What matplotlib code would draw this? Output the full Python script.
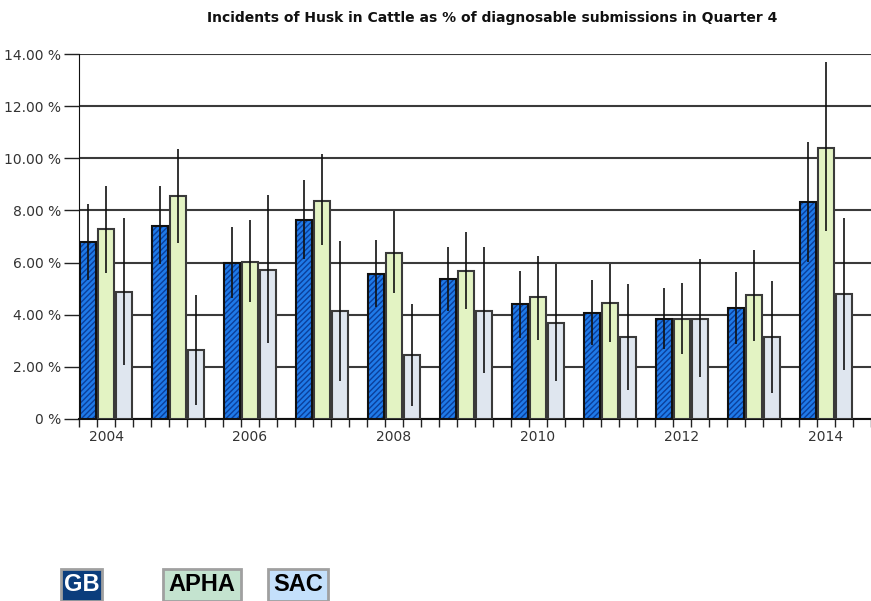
import numpy as np
import matplotlib
matplotlib.use('Agg')
import matplotlib.pyplot as plt
from matplotlib.patches import Rectangle

years = [2004, 2005, 2006, 2007, 2008, 2009, 2010, 2011, 2012, 2013, 2014]

gb = [6.80, 7.41, 5.97, 7.62, 5.58, 5.37, 4.41, 4.06, 3.83, 4.24, 8.32]
gb_lo = [5.35, 5.95, 4.64, 6.14, 4.29, 4.15, 3.10, 2.85, 2.69, 2.88, 6.03]
gb_hi = [8.24, 8.93, 7.37, 9.15, 6.86, 6.60, 5.69, 5.33, 5.01, 5.63, 10.63]

apha = [7.27, 8.54, 6.03, 8.38, 6.35, 5.68, 4.67, 4.45, 3.83, 4.77, 10.41]
apha_lo = [5.60, 6.76, 4.47, 6.67, 4.83, 4.22, 3.04, 2.95, 2.49, 2.99, 7.23]
apha_hi = [8.93, 10.37, 7.63, 10.18, 7.96, 7.17, 6.24, 5.96, 5.22, 6.50, 13.68]

sac = [4.86, 2.63, 5.72, 4.14, 2.46, 4.14, 3.70, 3.14, 3.83, 3.14, 4.81]
sac_lo = [2.08, 0.54, 2.91, 1.47, 0.50, 1.78, 1.47, 1.12, 1.62, 1.01, 1.88]
sac_hi = [7.72, 4.77, 8.59, 6.81, 4.42, 6.60, 5.96, 5.18, 6.14, 5.28, 7.72]

yticks = [0, 2, 4, 6, 8, 10, 12, 14]
label_years = [2004, 2006, 2008, 2010, 2012, 2014]

W, H = 871, 601
fig = plt.figure(figsize=(W / 100, H / 100), dpi=100)
ax = fig.add_axes([79 / W, (H - 419) / H, (W - 79) / W, (419 - 54) / H])

n = len(years)
slots = 4
bw = 0.9
base = np.arange(n) * slots
x_gb = base + 0.5
x_apha = base + 1.5
x_sac = base + 2.5

# GB: hatched blue, outline drawn separately so hatch keeps its own colour
ax.bar(x_gb, gb, bw, color='#1f7ae8', edgecolor='#0b3f9a', hatch='//////',
       linewidth=0, zorder=3)
ax.bar(x_gb, gb, bw, fill=False, edgecolor='#111111', linewidth=1.5, zorder=4)
ax.bar(x_apha, apha, bw, color='#e3f3c3', edgecolor='#3a3a3a', linewidth=1.5, zorder=3)
ax.bar(x_sac, sac, bw, color='#dfe6ef', edgecolor='#3a3a3a', linewidth=1.5, zorder=3)

for xs, lo, hi in [(x_gb, gb_lo, gb_hi), (x_apha, apha_lo, apha_hi), (x_sac, sac_lo, sac_hi)]:
    ax.vlines(xs, lo, hi, color='#111111', linewidth=1.2, zorder=5)

ax.set_ylim(0, 14)
ax.set_xlim(0, (W - 79) / 18.225)
ax.set_yticks(yticks)
ax.set_yticklabels(['0 %' if v == 0 else f'{v:.2f} %' for v in yticks],
                   fontsize=10, color='#333333')
ax.tick_params(axis='y', length=11, width=1, color='#222222', pad=2)
ax.grid(axis='y', color='#3a3a3a', linewidth=1.5, zorder=1)
ax.set_axisbelow(True)

# boundaries between bar slots carry ticks, labels sit under the APHA bar
ax.set_xticks(np.arange(0, n * slots + 1))
ax.set_xticklabels([])
ax.tick_params(axis='x', which='major', length=6, width=1, color='#222222')
ax.set_xticks([years.index(y) * slots + 1.5 for y in label_years], minor=True)
ax.set_xticklabels([str(y) for y in label_years], minor=True, fontsize=10,
                   color='#333333')
ax.tick_params(axis='x', which='minor', length=0, pad=8)

for side in ['top', 'right']:
    ax.spines[side].set_visible(False)
ax.spines['left'].set_color('#111111')
ax.spines['bottom'].set_color('#111111')
ax.spines['bottom'].set_linewidth(1.5)

fig.text(492 / W, 1 - 18 / H,
         'Incidents of Husk in Cattle as % of diagnosable submissions in Quarter 4',
         ha='center', va='center', fontsize=10, fontweight='bold', color='#111111')

# source buttons along the bottom
buttons = [('GB', 61, 102, '#0b3d7c', 'white'),
           ('APHA', 163, 241, '#c4e3cf', 'black'),
           ('SAC', 268, 328, '#c4e0fb', 'black')]
for label, x0, x1, bg, fg in buttons:
    fig.patches.append(Rectangle((x0 / W, 0), (x1 - x0) / W, (H - 569) / H,
                                 transform=fig.transFigure, facecolor=bg,
                                 edgecolor='#a0a0a0', linewidth=2))
    fig.text((x0 + x1) / 2 / W, (H - 591) / H, label, ha='center',
             va='baseline', fontsize=17, fontweight='bold', color=fg,
             family='Liberation Sans')

fig.savefig('out.png', dpi=100)
